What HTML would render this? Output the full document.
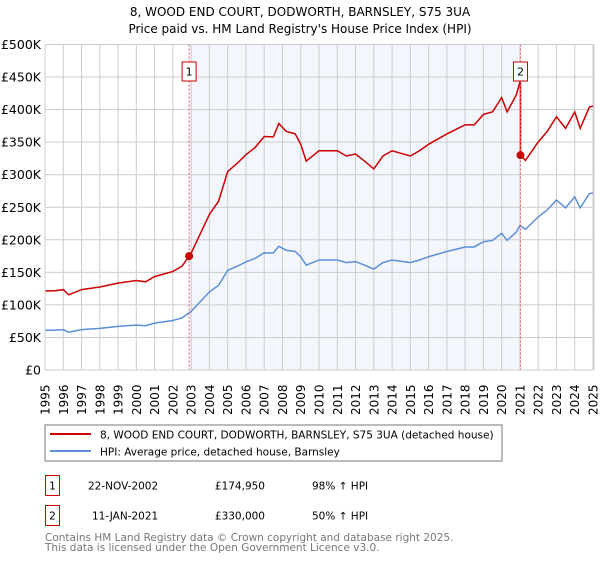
<!DOCTYPE html>
<html><head><meta charset="utf-8"><style>
body{margin:0;background:#fff;font-family:"DejaVu Sans","Liberation Sans",sans-serif;}
svg text{font-family:"DejaVu Sans","Liberation Sans",sans-serif;}
</style></head><body>
<svg id="chart" width="600" height="560" viewBox="0 0 600 560">
<text x="300" y="16" text-anchor="middle" font-size="12" fill="#000">8, WOOD END COURT, DODWORTH, BARNSLEY, S75 3UA</text>
<text x="300" y="33" text-anchor="middle" font-size="12" fill="#000">Price paid vs. HM Land Registry's House Price Index (HPI)</text>
<g id="grid"></g><g id="marks"></g><g id="axes"></g>
<rect x="45" y="425" width="457" height="36" fill="#fff" stroke="#777"/>
<line x1="50" y1="434" x2="91" y2="434" stroke="#cc0000" stroke-width="2"/>
<text x="100" y="438.5" font-size="10.5">8, WOOD END COURT, DODWORTH, BARNSLEY, S75 3UA (detached house)</text>
<line x1="50" y1="451" x2="91" y2="451" stroke="#5b8fd6" stroke-width="2"/>
<text x="100" y="455.5" font-size="10.5">HPI: Average price, detached house, Barnsley</text>
<g>
<rect x="45.5" y="475.5" width="14" height="20" fill="#fff" stroke="#cc0000"/>
<text x="52.5" y="489.5" font-size="10.5" text-anchor="middle">1</text>
<text x="88" y="489.5" font-size="10.5">22-NOV-2002</text>
<text x="265" y="489.5" font-size="10.5" text-anchor="end">£174,950</text>
<text x="312" y="489.5" font-size="10.5">98% ↑ HPI</text></g>
<g>
<rect x="45.5" y="505.5" width="14" height="20" fill="#fff" stroke="#cc0000"/>
<text x="52.5" y="519.5" font-size="10.5" text-anchor="middle">2</text>
<text x="92" y="519.5" font-size="10.5">11-JAN-2021</text>
<text x="265" y="519.5" font-size="10.5" text-anchor="end">£330,000</text>
<text x="312" y="519.5" font-size="10.5">50% ↑ HPI</text></g>
<text x="45" y="541" font-size="10.5" fill="#777">Contains HM Land Registry data © Crown copyright and database right 2025.</text>
<text x="45" y="551" font-size="10.5" fill="#777">This data is licensed under the Open Government Licence v3.0.</text>
</svg>
<script>
const hpiYears=[1995,1995.5,1996,1996.3,1997,1998,1999,2000,2000.5,2001,2002,2002.5,2003,2003.5,2004,2004.5,2005,2005.5,2006,2006.5,2007,2007.5,2007.8,2008.2,2008.7,2009,2009.3,2010,2011,2011.5,2012,2012.5,2013,2013.5,2014,2015,2015.5,2016,2017,2018,2018.5,2019,2019.5,2020,2020.3,2020.8,2021,2021.3,2022,2022.5,2023,2023.5,2024,2024.3,2024.8,2025];
const hpiValues=[61,61,62,58,62,64,67,69,68,72,76,80,90,105,120,130,153,159,166,171.5,180,179.7,190,184,182,174,161,169,169,165,166.5,161,155,165,169,165,169,174,182,189,189,197,199,210,199,212,222,216,235,246,261,249,266,249,271,272];
const saleYears=[2002.89,2021.03];
const salePrices=[174950,330000];
const saleLabels=["1","2"];
const yTicks=[0,50,100,150,200,250,300,350,400,450,500];
const yTickLabels=["£0","£50K","£100K","£150K","£200K","£250K","£300K","£350K","£400K","£450K","£500K"];
const xTicks=[1995,1996,1997,1998,1999,2000,2001,2002,2003,2004,2005,2006,2007,2008,2009,2010,2011,2012,2013,2014,2015,2016,2017,2018,2019,2020,2021,2022,2023,2024,2025];

const L=45,R=593,T=44.5,B=370;
const xS=y=>L+(y-1995)/30*(R-L);
const yS=v=>B-v/500*(B-T);
const NS="http://www.w3.org/2000/svg";
function mk(tag,attrs,parent){const e=document.createElementNS(NS,tag);for(const k in attrs)e.setAttribute(k,attrs[k]);parent.appendChild(e);return e;}
const grid=document.getElementById('grid'),marks=document.getElementById('marks'),axes=document.getElementById('axes');
function interp(t){for(let i=0;i<hpiYears.length-1;i++){if(t>=hpiYears[i]&&t<=hpiYears[i+1]){const f=(t-hpiYears[i])/(hpiYears[i+1]-hpiYears[i]);return hpiValues[i]+f*(hpiValues[i+1]-hpiValues[i]);}}return hpiValues[hpiValues.length-1];}
const shade=mk('rect',{x:xS(saleYears[0]),y:T,width:xS(saleYears[1])-xS(saleYears[0]),height:B-T,fill:'#eef2fc',opacity:0.7},grid);


xTicks.forEach(t=>{const g=mk('line',{x1:xS(t),x2:xS(t),y1:T,y2:B,stroke:'#cccccc'},grid);


const tx=mk('text',{transform:`translate(${xS(t)+4.5},${B+45}) rotate(-90)`,'font-size':12},axes);tx.textContent=t;

});
yTicks.forEach((v,i)=>{const g=mk('line',{x1:L,x2:R,y1:yS(v),y2:yS(v),stroke:'#cccccc'},grid);


const tx=mk('text',{x:L-4,y:yS(v)+4.5,'text-anchor':'end','font-size':12.5},axes);tx.textContent=yTickLabels[i];

});
const box=mk('rect',{x:L,y:T,width:R-L+1,height:B-T,fill:'none',stroke:'#cccccc'},axes);


const hp=mk('polyline',{points:hpiYears.map((y,i)=>xS(y)+','+yS(hpiValues[i])).join(' '),fill:'none',stroke:'#5b8fd6','stroke-width':1.5},marks);


const r1=salePrices[0]/1000/interp(saleYears[0]),r2=salePrices[1]/1000/interp(saleYears[1]);
const pts=[];
hpiYears.forEach((y,i)=>{if(y<saleYears[1])pts.push(xS(y)+','+yS(hpiValues[i]*r1));});
pts.push(xS(saleYears[1])+','+yS(interp(saleYears[1])*r1));
pts.push(xS(saleYears[1])+','+yS(salePrices[1]/1000));
hpiYears.forEach((y,i)=>{if(y>saleYears[1])pts.push(xS(y)+','+yS(hpiValues[i]*r2));});
const pl=mk('polyline',{points:pts.join(' '),fill:'none',stroke:'#cc0000','stroke-width':1.5},marks);


saleYears.forEach((y,i)=>{
const vl=mk('line',{x1:xS(y),x2:xS(y),y1:T,y2:B,stroke:'#e06060','stroke-dasharray':'2,2'},marks);


const c=mk('circle',{cx:xS(y),cy:yS(salePrices[i]/1000),r:4,fill:'#cc0000'},marks);


const b=mk('rect',{x:xS(y)-7,y:62,width:14,height:19,fill:'#fff',stroke:'#cc0000'},marks);


const t=mk('text',{x:xS(y),y:75.5,'text-anchor':'middle','font-size':11},marks);t.textContent=saleLabels[i];

});
</script>
</body></html>
